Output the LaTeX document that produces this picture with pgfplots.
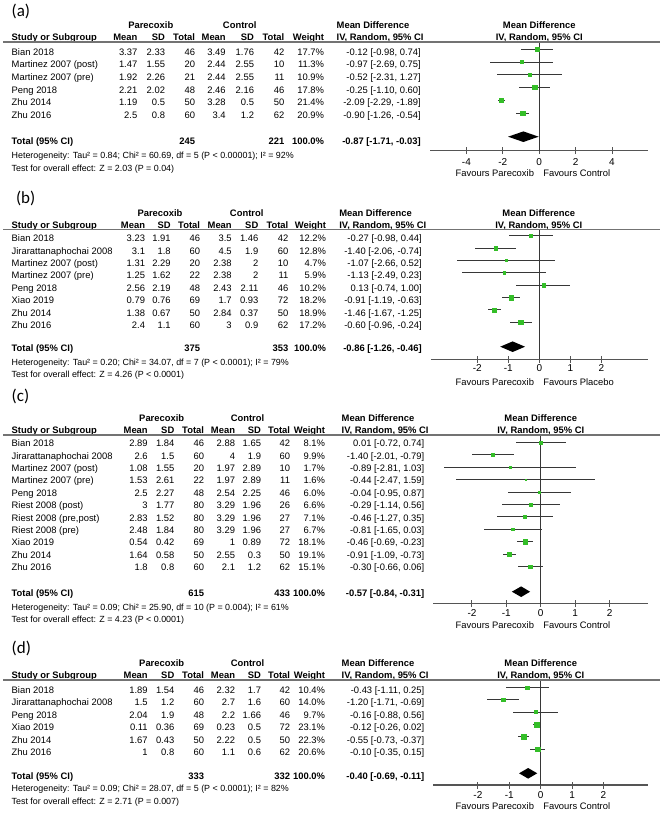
\documentclass[border=0pt]{standalone}
\usepackage{fontspec}
\setmainfont{Liberation Sans}
\newfontfamily\lblfont{Carlito}
\usepackage{pgfplots}
\usepackage{pgfplotstable}
\pgfplotsset{compat=1.18}
\definecolor{mgreen}{RGB}{52,190,40}
\definecolor{cicol}{RGB}{55,55,55}
\definecolor{axcol}{RGB}{85,85,85}
\definecolor{hdrcol}{RGB}{115,115,115}

% forest-plot data: y = vertical position (negated pixel row), md, lo, hi, weight
\pgfplotstableread[row sep=\\]{
y md lo hi w \\
-49.3 -0.12 -0.98 0.74 17.7 \\
-62.0 -0.97 -2.69 0.75 11.3 \\
-74.8 -0.52 -2.31 1.27 10.9 \\
-87.5 -0.25 -1.10 0.60 17.8 \\
-100.3 -2.09 -2.29 -1.89 21.4 \\
-113.0 -0.90 -1.26 -0.54 20.9 \\
}\tabA
\pgfplotstableread[row sep=\\]{
y md lo hi w \\
-235.7 -0.27 -0.98 0.44 12.2 \\
-248.1 -1.40 -2.06 -0.74 12.8 \\
-260.4 -1.07 -2.66 0.52 4.7 \\
-272.8 -1.13 -2.49 0.23 5.9 \\
-285.2 0.13 -0.74 1.00 10.2 \\
-297.6 -0.91 -1.19 -0.63 18.2 \\
-309.9 -1.46 -1.67 -1.25 18.9 \\
-322.3 -0.60 -0.96 -0.24 17.2 \\
}\tabB
\pgfplotstableread[row sep=\\]{
y md lo hi w \\
-442.3 0.01 -0.72 0.74 8.1 \\
-454.7 -1.40 -2.01 -0.79 9.9 \\
-467.2 -0.89 -2.81 1.03 1.7 \\
-479.6 -0.44 -2.47 1.59 1.6 \\
-492.1 -0.04 -0.95 0.87 6.0 \\
-504.5 -0.29 -1.14 0.56 6.6 \\
-516.9 -0.46 -1.27 0.35 7.1 \\
-529.4 -0.81 -1.65 0.03 6.7 \\
-541.8 -0.46 -0.69 -0.23 18.1 \\
-554.3 -0.91 -1.09 -0.73 19.1 \\
-566.7 -0.30 -0.66 0.06 15.1 \\
}\tabC
\pgfplotstableread[row sep=\\]{
y md lo hi w \\
-687.3 -0.43 -1.11 0.25 10.4 \\
-699.7 -1.20 -1.71 -0.69 14.0 \\
-712.0 -0.16 -0.88 0.56 9.7 \\
-724.4 -0.12 -0.26 0.02 23.1 \\
-736.7 -0.55 -0.73 -0.37 22.3 \\
-749.1 -0.10 -0.35 0.15 20.6 \\
}\tabD

\pgfplotsset{
  forest/.style={scale only axis, clip=false, anchor=south west,
    axis x line*=bottom, axis y line=none, ytick=\empty,
    tick align=center, major tick length=7bp,
    axis line style={draw=axcol, line width=1.1bp},
    every tick/.style={draw=axcol, line width=1bp},
    xticklabel style={font=\fontsize{10bp}{12bp}\selectfont, text=black}},
  ci/.style={draw=none, mark=none, forget plot,
    error bars/.cd, x dir=both, x explicit, error mark=none,
    error bar style={draw=cicol, line width=0.9bp, solid}},
  sq/.style={scatter, only marks, mark=square*, point meta=explicit,
    scatter/use mapped color={draw=mgreen, fill=mgreen},
    visualization depends on={\thisrow{w} \as \wt},
    scatter/@pre marker code/.append style={/tikz/mark size={0.5*sqrt(\wt)}}},
  zl/.style={draw=cicol, line width=1bp},
}

\newcommand\setcols[9]{\def\cS{#1}\def\cA{#2}\def\cB{#3}\def\cC{#4}\def\cD{#5}\def\cE{#6}\def\cF{#7}\def\cW{#8}\def\cM{#9}}
\newcommand\row[9]{%
 \node[anchor=base west] at (\cS,\ry) {#1};
 \node[anchor=base east] at (\cA,\ry) {#2};
 \node[anchor=base east] at (\cB,\ry) {#3};
 \node[anchor=base east] at (\cC,\ry) {#4};
 \node[anchor=base east] at (\cD,\ry) {#5};
 \node[anchor=base east] at (\cE,\ry) {#6};
 \node[anchor=base east] at (\cF,\ry) {#7};
 \node[anchor=base east] at (\cW,\ry) {#8\%};
 \node[anchor=base east] at (\cM,\ry) {#9};
 \pgfmathsetmacro\ry{\ry+\rstep}%
}
\newcommand\hdr[7]{%
 \node[anchor=base,font=\bfseries] at (#3,#1) {Parecoxib};
 \node[anchor=base,font=\bfseries] at (#4,#1) {Control};
 \node[anchor=base west,font=\bfseries] at (\cS,#2) {Study or Subgroup};
 \node[anchor=base east,font=\bfseries] at (\cA,#2) {Mean};
 \node[anchor=base east,font=\bfseries] at (\cB,#2) {SD};
 \node[anchor=base east,font=\bfseries] at (\cC,#2) {Total};
 \node[anchor=base east,font=\bfseries] at (\cD,#2) {Mean};
 \node[anchor=base east,font=\bfseries] at (\cE,#2) {SD};
 \node[anchor=base east,font=\bfseries] at (\cF,#2) {Total};
 \node[anchor=base east,font=\bfseries] at (\cW,#2) {Weight};
 \node[anchor=base west,font=\bfseries] at (#5,#1) {Mean Difference};
 \node[anchor=base west,font=\bfseries] at (#5,#2) {IV, Random, 95\% CI};
 \node[anchor=base,font=\bfseries] at (#6,#1) {Mean Difference};
 \node[anchor=base,font=\bfseries] at (#6,#2) {IV, Random, 95\% CI};
 \draw[hdrcol, line width=1.2bp] (3.3,#7) -- (660,#7);
}
\newcommand\totrow[4]{%
 \node[anchor=base west,font=\bfseries] at (\cS,#1) {Total (95\% CI)};
 \node[anchor=base east,font=\bfseries] at (\cC,#1) {#2};
 \node[anchor=base east,font=\bfseries] at (\cF,#1) {#3};
 \node[anchor=base east,font=\bfseries] at (\cW,#1) {100.0\%};
 \node[anchor=base east,font=\bfseries] at (\cM,#1) {#4};
}
\newcommand\foot[2]{\node[anchor=base west,font=\fontsize{8.9bp}{11bp}\selectfont] at (\cS,#1) {#2};}
\newcommand\plabel[3]{\node[anchor=base west,font={\lblfont\fontsize{17bp}{20bp}\selectfont}] at (#1,#2) {#3};}
\newcommand\favours[2]{%
 \node[anchor=base east] at (534,#1) {Favours Parecoxib};
 \node[anchor=base west] at (543.3,#1) {#2};
}

\begin{document}
\fontsize{9.4bp}{11bp}\selectfont
\begin{tikzpicture}
\path[use as bounding box] (0,0) rectangle (660bp,-813bp);

% ---------- forest plots ----------
\begin{axis}[forest, at={(430bp,-150.7bp)}, width=218.4bp, height=108.7bp,
  xmin=-6, xmax=6, ymin=-150.7, ymax=-42,
  xtick={-4,-2,0,2,4}, xticklabels={-4,-2,0,2,4}, xticklabel style={yshift=-0.6bp}]
\addplot[zl] coordinates {(0,-150.7) (0,-42)};
\addplot[ci] table[x=md, y=y, x error plus expr=\thisrow{hi}-\thisrow{md}, x error minus expr=\thisrow{md}-\thisrow{lo}] {\tabA};
\addplot[sq] table[x=md, y=y, meta=w] {\tabA};
\addplot[fill=black, draw=none] coordinates {(-1.71,-136.7) (-0.87,-131.4) (-0.03,-136.7) (-0.87,-142.0)} -- cycle;
\end{axis}

\begin{axis}[forest, at={(430.8bp,-359.3bp)}, width=217bp, height=130bp,
  xmin=-3.5, xmax=3.5, ymin=-359.3, ymax=-229.3,
  xtick={-2,-1,0,1,2}, xticklabels={-2,-1,0,1,2}, xticklabel style={yshift=1.2bp}]
\addplot[zl] coordinates {(0,-359.3) (0,-229.3)};
\addplot[ci] table[x=md, y=y, x error plus expr=\thisrow{hi}-\thisrow{md}, x error minus expr=\thisrow{md}-\thisrow{lo}] {\tabB};
\addplot[sq] table[x=md, y=y, meta=w] {\tabB};
\addplot[fill=black, draw=none] coordinates {(-1.26,-346.7) (-0.86,-341.4) (-0.46,-346.7) (-0.86,-352.0)} -- cycle;
\end{axis}

\begin{axis}[forest, at={(433.1bp,-603.5bp)}, width=215.3bp, height=168.5bp,
  xmin=-3.13, xmax=3.13, ymin=-603.5, ymax=-435,
  xtick={-2,-1,0,1,2}, xticklabels={-2,-1,0,1,2}, xticklabel style={yshift=0.6bp}]
\addplot[zl] coordinates {(0,-603.5) (0,-435)};
\addplot[ci] table[x=md, y=y, x error plus expr=\thisrow{hi}-\thisrow{md}, x error minus expr=\thisrow{md}-\thisrow{lo}] {\tabC};
\addplot[sq] table[x=md, y=y, meta=w] {\tabC};
\addplot[fill=black, draw=none] coordinates {(-0.84,-591.7) (-0.57,-586.4) (-0.31,-591.7) (-0.57,-597.0)} -- cycle;
\end{axis}

\begin{axis}[forest, at={(433.3bp,-785bp)}, width=214.8bp, height=105bp,
  xmin=-3.42, xmax=3.42, ymin=-785, ymax=-680,
  xtick={-2,-1,0,1,2}, xticklabels={-2,-1,0,1,2}, xticklabel style={yshift=0.6bp}]
\addplot[zl] coordinates {(0,-785) (0,-680)};
\addplot[ci] table[x=md, y=y, x error plus expr=\thisrow{hi}-\thisrow{md}, x error minus expr=\thisrow{md}-\thisrow{lo}] {\tabD};
\addplot[sq] table[x=md, y=y, meta=w] {\tabD};
\addplot[fill=black, draw=none] coordinates {(-0.69,-773.3) (-0.40,-768.0) (-0.11,-773.3) (-0.40,-778.6)} -- cycle;
\end{axis}

% ---------- tables ----------
\begin{scope}[x=1bp, y=-1bp, every node/.style={inner sep=0pt, outer sep=0pt}]
% (a)
\plabel{11.7}{16.5}{(a)}
\setcols{11.7}{137.3}{165}{195}{225.7}{254}{284.3}{324}{420.7}
\hdr{28.4}{40.8}{150.8}{239.7}{336.7}{539.3}{42}
\def\ry{55.1}\def\rstep{12.65}
\row{Bian 2018}{3.37}{2.33}{46}{3.49}{1.76}{42}{17.7}{-0.12 [-0.98, 0.74]}
\row{Martinez 2007 (post)}{1.47}{1.55}{20}{2.44}{2.55}{10}{11.3}{-0.97 [-2.69, 0.75]}
\row{Martinez 2007 (pre)}{1.92}{2.26}{21}{2.44}{2.55}{11}{10.9}{-0.52 [-2.31, 1.27]}
\row{Peng 2018}{2.21}{2.02}{48}{2.46}{2.16}{46}{17.8}{-0.25 [-1.10, 0.60]}
\row{Zhu 2014}{1.19}{0.5}{50}{3.28}{0.5}{50}{21.4}{-2.09 [-2.29, -1.89]}
\row{Zhu 2016}{2.5}{0.8}{60}{3.4}{1.2}{62}{20.9}{-0.90 [-1.26, -0.54]}
\totrow{144.4}{245}{221}{-0.87 [-1.71, -0.03]}
\foot{158.4}{Heterogeneity: Tau² = 0.84; Chi² = 60.69, df = 5 (P < 0.00001); I² = 92\%}
\foot{171.1}{Test for overall effect: Z = 2.03 (P = 0.04)}
\favours{176.1}{Favours Control}

% (b)
\plabel{16}{203.1}{(b)}
\setcols{11.7}{145}{170.7}{200}{231.7}{258.3}{288.3}{326}{421.7}
\hdr{216.7}{228.1}{160}{246.7}{339.3}{538.8}{229.3}
\def\ry{241.7}\def\rstep{12.4}
\row{Bian 2018}{3.23}{1.91}{46}{3.5}{1.46}{42}{12.2}{-0.27 [-0.98, 0.44]}
\row{Jirarattanaphochai 2008}{3.1}{1.8}{60}{4.5}{1.9}{60}{12.8}{-1.40 [-2.06, -0.74]}
\row{Martinez 2007 (post)}{1.31}{2.29}{20}{2.38}{2}{10}{4.7}{-1.07 [-2.66, 0.52]}
\row{Martinez 2007 (pre)}{1.25}{1.62}{22}{2.38}{2}{11}{5.9}{-1.13 [-2.49, 0.23]}
\row{Peng 2018}{2.56}{2.19}{48}{2.43}{2.11}{46}{10.2}{0.13 [-0.74, 1.00]}
\row{Xiao 2019}{0.79}{0.76}{69}{1.7}{0.93}{72}{18.2}{-0.91 [-1.19, -0.63]}
\row{Zhu 2014}{1.38}{0.67}{50}{2.84}{0.37}{50}{18.9}{-1.46 [-1.67, -1.25]}
\row{Zhu 2016}{2.4}{1.1}{60}{3}{0.9}{62}{17.2}{-0.60 [-0.96, -0.24]}
\totrow{351.1}{375}{353}{-0.86 [-1.26, -0.46]}
\foot{365.1}{Heterogeneity: Tau² = 0.20; Chi² = 34.07, df = 7 (P < 0.0001); I² = 79\%}
\foot{377.7}{Test for overall effect: Z = 4.26 (P < 0.0001)}
\favours{385.1}{Favours Placebo}

% (c)
\plabel{11.7}{401.5}{(c)}
\setcols{11.7}{147.7}{174.3}{204}{235}{261}{290}{325}{424.3}
\hdr{421.7}{433.8}{161.7}{247.5}{341.7}{540.8}{435}
\def\ry{446.7}\def\rstep{12.4}
\row{Bian 2018}{2.89}{1.84}{46}{2.88}{1.65}{42}{8.1}{0.01 [-0.72, 0.74]}
\row{Jirarattanaphochai 2008}{2.6}{1.5}{60}{4}{1.9}{60}{9.9}{-1.40 [-2.01, -0.79]}
\row{Martinez 2007 (post)}{1.08}{1.55}{20}{1.97}{2.89}{10}{1.7}{-0.89 [-2.81, 1.03]}
\row{Martinez 2007 (pre)}{1.53}{2.61}{22}{1.97}{2.89}{11}{1.6}{-0.44 [-2.47, 1.59]}
\row{Peng 2018}{2.5}{2.27}{48}{2.54}{2.25}{46}{6.0}{-0.04 [-0.95, 0.87]}
\row{Riest 2008 (post)}{3}{1.77}{80}{3.29}{1.96}{26}{6.6}{-0.29 [-1.14, 0.56]}
\row{Riest 2008 (pre,post)}{2.83}{1.52}{80}{3.29}{1.96}{27}{7.1}{-0.46 [-1.27, 0.35]}
\row{Riest 2008 (pre)}{2.48}{1.84}{80}{3.29}{1.96}{27}{6.7}{-0.81 [-1.65, 0.03]}
\row{Xiao 2019}{0.54}{0.42}{69}{1}{0.89}{72}{18.1}{-0.46 [-0.69, -0.23]}
\row{Zhu 2014}{1.64}{0.58}{50}{2.55}{0.3}{50}{19.1}{-0.91 [-1.09, -0.73]}
\row{Zhu 2016}{1.8}{0.8}{60}{2.1}{1.2}{62}{15.1}{-0.30 [-0.66, 0.06]}
\totrow{596.1}{615}{433}{-0.57 [-0.84, -0.31]}
\foot{610.1}{Heterogeneity: Tau² = 0.09; Chi² = 25.90, df = 10 (P = 0.004); I² = 61\%}
\foot{622.4}{Test for overall effect: Z = 4.23 (P < 0.0001)}
\favours{628.4}{Favours Control}

% (d)
\plabel{11.7}{653.1}{(d)}
\hdr{666.7}{678.8}{161.7}{247.5}{341.7}{540.8}{680}
\def\ry{693.4}\def\rstep{12.45}
\row{Bian 2018}{1.89}{1.54}{46}{2.32}{1.7}{42}{10.4}{-0.43 [-1.11, 0.25]}
\row{Jirarattanaphochai 2008}{1.5}{1.2}{60}{2.7}{1.6}{60}{14.0}{-1.20 [-1.71, -0.69]}
\row{Peng 2018}{2.04}{1.9}{48}{2.2}{1.66}{46}{9.7}{-0.16 [-0.88, 0.56]}
\row{Xiao 2019}{0.11}{0.36}{69}{0.23}{0.5}{72}{23.1}{-0.12 [-0.26, 0.02]}
\row{Zhu 2014}{1.67}{0.43}{50}{2.22}{0.5}{50}{22.3}{-0.55 [-0.73, -0.37]}
\row{Zhu 2016}{1}{0.8}{60}{1.1}{0.6}{62}{20.6}{-0.10 [-0.35, 0.15]}
\totrow{779.1}{333}{332}{-0.40 [-0.69, -0.11]}
\foot{791.7}{Heterogeneity: Tau² = 0.09; Chi² = 28.07, df = 5 (P < 0.0001); I² = 82\%}
\foot{804.4}{Test for overall effect: Z = 2.71 (P = 0.007)}
\favours{809.1}{Favours Control}
\end{scope}
\end{tikzpicture}
\end{document}
